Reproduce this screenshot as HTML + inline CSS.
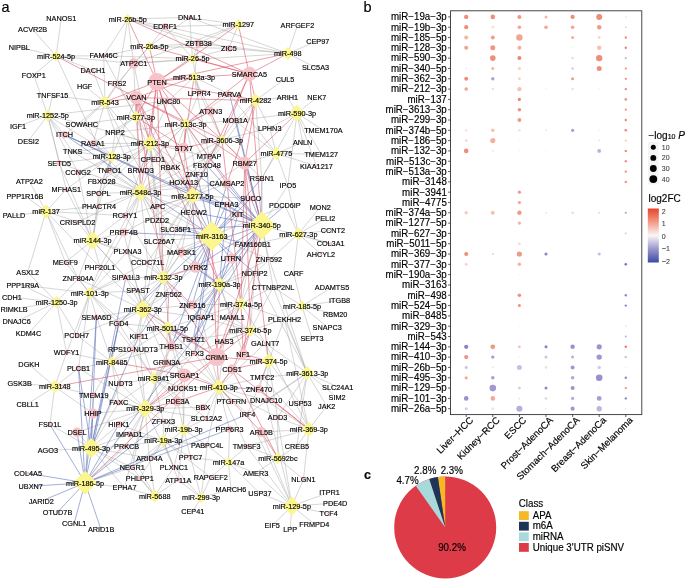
<!DOCTYPE html><html><head><meta charset="utf-8"><title>Figure</title><style>
html,body{margin:0;padding:0;background:#fff}svg{display:block}
text{font-family:"Liberation Sans",Arial,Helvetica,sans-serif;fill:#000;stroke:#000;stroke-width:0.16px}
.n{font-size:7.8px;text-anchor:middle}.y{font-size:10.2px;text-anchor:end}.x{font-size:9.6px;text-anchor:end}
.l{font-size:9.7px}.p{font-size:9.7px;text-anchor:middle}.t{font-size:7px;fill:#444;stroke:#444;stroke-width:0.1px}
</style></head><body>
<svg width="685" height="586" viewBox="0 0 685 586">
<rect width="685" height="586" fill="#fff"/>
<path d="M56.1 56.1L61.3 18.0M56.1 56.1L32.6 29.3M56.1 56.1L19.3 47.3M56.1 56.1L33.8 75.0M56.1 56.1L103.7 55.7M56.1 56.1L92.9 70.4M56.1 56.1L133.7 63.4M56.1 56.1L109.5 170.6M127.8 18.9L165.2 26.6M127.8 18.9L189.7 17.5M127.8 18.9L103.7 55.7M127.8 18.9L133.7 63.4M127.8 18.9L198.5 43.3M127.8 18.9L228.9 48.4M127.8 18.9L117.0 83.7M149.4 46.4L165.2 26.6M149.4 46.4L189.7 17.5M149.4 46.4L103.7 55.7M149.4 46.4L133.7 63.4M149.4 46.4L198.5 43.3M149.4 46.4L228.9 48.4M149.4 46.4L117.0 83.7M192.5 58.7L165.2 26.6M192.5 58.7L189.7 17.5M192.5 58.7L133.7 63.4M192.5 58.7L198.5 43.3M192.5 58.7L228.9 48.4M192.5 58.7L199.3 92.8M192.5 58.7L103.7 55.7M238.3 24.7L165.2 26.6M238.3 24.7L189.7 17.5M238.3 24.7L198.5 43.3M238.3 24.7L228.9 48.4M238.3 24.7L133.7 63.4M287.8 53.5L297.4 25.6M287.8 53.5L317.7 40.8M287.8 53.5L315.5 67.4M287.8 53.5L228.9 48.4M287.8 53.5L198.5 43.3M287.8 53.5L189.7 17.5M287.8 53.5L165.2 26.6M287.8 53.5L133.7 63.4M194.1 77.1L199.3 92.8M194.1 77.1L229.5 94.2M194.1 77.1L168.4 100.8M194.1 77.1L209.0 156.6M105.0 101.9L117.0 83.7M105.0 101.9L84.6 86.2M105.0 101.9L92.9 70.4M105.0 101.9L115.0 132.6M105.0 101.9L81.8 123.8M105.0 101.9L52.6 95.6M105.0 101.9L92.9 143.4M105.0 101.9L152.9 159.6M105.0 101.9L140.7 170.6M47.7 115.4L52.6 95.6M47.7 115.4L33.8 75.0M47.7 115.4L18.0 126.3M47.7 115.4L28.4 140.8M47.7 115.4L81.8 123.8M47.7 115.4L64.5 134.7M47.7 115.4L72.7 151.7M47.7 115.4L59.2 163.1M47.7 115.4L78.0 172.3M47.7 115.4L168.4 100.8M47.7 115.4L92.9 143.4M47.7 115.4L66.2 189.3M135.9 116.8L115.0 132.6M135.9 116.8L117.0 83.7M135.9 116.8L152.9 159.6M135.9 116.8L140.7 170.6M135.9 116.8L170.4 167.6M135.9 116.8L81.8 123.8M135.9 116.8L168.4 100.8M185.7 123.8L168.4 100.8M185.7 123.8L199.3 92.8M185.7 123.8L209.0 156.6M185.7 123.8L206.9 165.7M185.7 123.8L196.7 174.1M185.7 123.8L170.4 167.6M185.7 123.8L183.6 182.0M255.5 100.5L229.5 94.2M255.5 100.5L285.1 78.8M255.5 100.5L287.4 96.9M255.5 100.5L235.2 120.7M255.5 100.5L269.7 128.0M255.5 100.5L261.8 178.3M255.5 100.5L206.9 165.7M297.0 113.2L287.4 96.9M297.0 113.2L316.8 97.5M297.0 113.2L323.4 130.4M297.0 113.2L302.6 142.2M297.0 113.2L321.2 154.1M297.0 113.2L269.7 128.0M297.0 113.2L235.2 120.7M297.0 113.2L316.4 165.9M297.0 113.2L287.9 185.4M297.0 113.2L261.8 178.3M149.9 143.4L152.9 159.6M149.9 143.4L170.4 167.6M149.9 143.4L140.7 170.6M149.9 143.4L115.0 132.6M149.9 143.4L168.4 100.8M149.9 143.4L109.5 170.6M222.0 139.8L235.2 120.7M222.0 139.8L209.0 156.6M222.0 139.8L206.9 165.7M111.8 156.4L92.9 143.4M111.8 156.4L109.5 170.6M111.8 156.4L101.6 181.5M111.8 156.4L72.7 151.7M111.8 156.4L78.0 172.3M111.8 156.4L59.2 163.1M111.8 156.4L140.7 170.6M111.8 156.4L152.9 159.6M111.8 156.4L115.0 132.6M111.8 156.4L81.8 123.8M276.4 153.6L269.7 128.0M276.4 153.6L302.6 142.2M276.4 153.6L321.2 154.1M276.4 153.6L316.4 165.9M276.4 153.6L261.8 178.3M276.4 153.6L287.9 185.4M276.4 153.6L235.2 120.7M276.4 153.6L244.7 163.1M276.4 153.6L229.5 94.2M46.1 211.5L29.4 181.5M46.1 211.5L24.9 195.8M46.1 211.5L14.0 215.6M46.1 211.5L66.2 189.3M46.1 211.5L77.6 222.0M46.1 211.5L99.0 205.9M46.1 211.5L27.7 272.3M46.1 211.5L65.3 262.3M46.1 211.5L78.1 278.6M46.1 211.5L124.9 215.6M46.1 211.5L99.9 267.2M92.5 240.5L77.6 222.0M92.5 240.5L65.3 262.3M92.5 240.5L99.9 267.2M92.5 240.5L123.7 232.6M92.5 240.5L124.9 215.6M92.5 240.5L99.0 205.9M92.5 240.5L98.5 193.5M92.5 240.5L66.2 189.3M92.5 240.5L127.5 251.5M92.5 240.5L78.1 278.6M92.5 240.5L125.8 277.6M92.5 240.5L78.0 172.3M92.5 240.5L59.2 163.1M140.5 191.9L157.7 206.6M140.5 191.9L124.9 215.6M140.5 191.9L157.0 219.8M140.5 191.9L140.7 170.6M140.5 191.9L152.9 159.6M140.5 191.9L170.4 167.6M140.5 191.9L101.6 181.5M140.5 191.9L98.5 193.5M140.5 191.9L99.0 205.9M140.5 191.9L123.7 232.6M140.5 191.9L159.1 241.3M140.5 191.9L127.5 251.5M140.5 191.9L147.7 262.0M140.5 191.9L109.5 170.6M140.5 191.9L183.6 182.0M192.4 195.8L183.6 182.0M192.4 195.8L193.7 212.4M192.4 195.8L196.7 174.1M192.4 195.8L157.7 206.6M192.4 195.8L175.7 229.4M192.4 195.8L181.5 252.2M192.4 195.8L206.9 165.7M192.4 195.8L157.0 219.8M211.8 236.1L159.1 241.3M211.8 236.1L181.5 252.2M211.8 236.1L157.0 219.8M211.8 236.1L157.7 206.6M261.8 225.5L269.0 259.1M261.8 225.5L254.7 272.9M261.8 225.5L287.9 185.4M298.4 234.0L320.2 207.0M298.4 234.0L325.3 218.2M298.4 234.0L332.9 230.0M298.4 234.0L330.6 243.7M298.4 234.0L321.0 254.2M298.4 234.0L284.9 205.6M298.4 234.0L287.9 185.4M298.4 234.0L293.6 273.3M298.4 234.0L252.8 244.5M298.4 234.0L254.7 272.9M163.4 277.5L125.8 277.6M163.4 277.5L138.0 290.7M163.4 277.5L168.7 294.0M163.4 277.5L147.7 262.0M163.4 277.5L127.5 251.5M163.4 277.5L181.5 252.2M163.4 277.5L159.1 241.3M219.5 284.6L192.3 305.0M219.5 284.6L201.1 317.3M219.5 284.6L232.3 317.1M89.7 293.1L78.1 278.6M89.7 293.1L99.9 267.2M89.7 293.1L96.4 316.8M89.7 293.1L76.7 335.2M89.7 293.1L66.6 352.7M89.7 293.1L118.8 323.4M89.7 293.1L65.3 262.3M89.7 293.1L78.5 368.3M56.6 302.1L27.7 272.3M56.6 302.1L22.8 285.2M56.6 302.1L11.9 297.2M56.6 302.1L14.0 308.9M56.6 302.1L16.6 321.3M56.6 302.1L28.4 333.6M56.6 302.1L78.1 278.6M56.6 302.1L76.7 335.2M56.6 302.1L66.6 352.7M142.8 309.4L138.0 290.7M142.8 309.4L118.8 323.4M142.8 309.4L138.9 336.2M142.8 309.4L125.8 277.6M142.8 309.4L132.8 349.4M142.8 309.4L168.7 294.0M142.8 309.4L96.4 316.8M167.3 327.8L138.9 336.2M167.3 327.8L166.6 362.4M241.0 303.8L232.3 317.1M241.0 303.8L254.7 272.9M241.0 303.8L273.1 287.1M241.0 303.8L224.0 341.5M302.0 306.1L293.6 273.3M302.0 306.1L332.0 287.1M302.0 306.1L339.6 300.4M302.0 306.1L335.2 314.0M302.0 306.1L327.2 326.9M302.0 306.1L312.0 338.3M302.0 306.1L284.5 318.8M302.0 306.1L273.1 287.1M250.4 330.7L232.3 317.1M250.4 330.7L265.2 343.1M250.4 330.7L224.0 341.5M250.4 330.7L273.1 287.1M268.6 361.1L265.2 343.1M268.6 361.1L262.1 377.5M268.6 361.1L284.5 318.8M268.6 361.1L258.9 389.0M111.7 361.8L132.8 349.4M111.7 361.8L120.5 383.7M111.7 361.8L78.5 368.3M111.7 361.8L118.8 323.4M111.7 361.8L138.9 336.2M111.7 361.8L93.7 395.0M111.7 361.8L118.8 402.6M111.7 361.8L66.6 352.7M54.8 386.6L28.9 364.4M54.8 386.6L19.6 383.3M54.8 386.6L27.7 403.8M54.8 386.6L49.9 424.5M54.8 386.6L78.5 368.3M54.8 386.6L93.7 395.0M54.8 386.6L66.6 352.7M54.8 386.6L92.9 413.4M153.5 378.0L166.6 362.4M153.5 378.0L120.5 383.7M153.5 378.0L182.7 388.0M153.5 378.0L118.8 402.6M153.5 378.0L163.4 421.0M153.5 378.0L177.5 401.5M153.5 378.0L184.5 375.2M153.5 378.0L171.3 346.2M153.5 378.0L132.8 349.4M218.8 387.2L182.7 388.0M218.8 387.2L202.9 407.3M218.8 387.2L231.4 401.4M218.8 387.2L206.4 418.3M218.8 387.2L194.6 353.2M307.2 372.9L337.7 387.0M307.2 372.9L337.1 397.4M307.2 372.9L326.7 406.1M307.2 372.9L300.1 403.1M307.2 372.9L266.1 400.2M307.2 372.9L262.1 377.5M307.2 372.9L247.5 414.1M307.2 372.9L296.9 446.4M307.2 372.9L273.1 287.1M307.2 372.9L284.5 318.8M307.2 372.9L254.7 272.9M307.2 372.9L265.2 343.1M307.2 372.9L269.0 259.1M307.2 372.9L277.5 417.5M145.2 408.7L118.8 402.6M145.2 408.7L118.8 424.5M145.2 408.7L129.3 434.1M145.2 408.7L163.4 421.0M145.2 408.7L120.5 383.7M145.2 408.7L126.6 445.8M145.2 408.7L149.4 458.0M145.2 408.7L182.7 388.0M145.2 408.7L166.6 362.4M183.6 429.7L163.4 421.0M183.6 429.7L206.4 418.3M183.6 429.7L207.2 445.3M183.6 429.7L190.6 457.2M183.6 429.7L202.9 407.3M183.6 429.7L173.9 467.0M183.6 429.7L178.3 480.1M183.6 429.7L177.5 401.5M163.3 440.6L163.4 421.0M163.3 440.6L129.3 434.1M163.3 440.6L149.4 458.0M163.3 440.6L173.9 467.0M163.3 440.6L190.6 457.2M163.3 440.6L178.3 480.1M163.3 440.6L126.6 445.8M163.3 440.6L177.5 401.5M308.8 429.3L300.1 403.1M308.8 429.3L326.7 406.1M308.8 429.3L277.5 417.5M308.8 429.3L296.9 446.4M308.8 429.3L266.1 400.2M308.8 429.3L246.6 446.4M308.8 429.3L303.5 479.4M308.8 429.3L261.4 432.1M308.8 429.3L265.2 343.1M308.8 429.3L284.5 318.8M308.8 429.3L262.1 377.5M91.1 448.0L47.8 450.6M91.1 448.0L77.1 432.4M91.1 448.0L92.9 413.4M91.1 448.0L118.8 424.5M91.1 448.0L129.3 434.1M91.1 448.0L126.6 445.8M91.1 448.0L93.7 395.0M91.1 448.0L118.8 402.6M91.1 448.0L132.2 467.5M91.1 448.0L124.5 487.7M91.1 448.0L139.8 478.0M85.1 482.8L124.5 487.7M85.1 482.8L132.2 467.5M85.1 482.8L126.6 445.8M154.7 495.9L149.4 458.0M154.7 495.9L132.2 467.5M154.7 495.9L139.8 478.0M154.7 495.9L124.5 487.7M154.7 495.9L178.3 480.1M154.7 495.9L173.9 467.0M154.7 495.9L126.6 445.8M201.1 497.7L190.6 457.2M201.1 497.7L173.9 467.0M201.1 497.7L178.3 480.1M201.1 497.7L210.7 477.2M201.1 497.7L192.7 511.7M201.1 497.7L231.0 489.2M201.1 497.7L207.2 445.3M228.5 462.3L210.7 477.2M228.5 462.3L231.0 489.2M228.5 462.3L255.7 473.2M228.5 462.3L259.9 493.3M228.5 462.3L207.2 445.3M228.5 462.3L246.6 446.4M228.5 462.3L190.6 457.2M277.9 458.0L303.5 479.4M277.9 458.0L296.9 446.4M277.9 458.0L246.6 446.4M277.9 458.0L255.7 473.2M277.9 458.0L277.5 417.5M291.9 506.0L303.5 479.4M291.9 506.0L329.5 492.3M291.9 506.0L335.2 503.1M291.9 506.0L328.6 513.6M291.9 506.0L314.3 524.0M291.9 506.0L290.2 529.7M291.9 506.0L272.2 525.5M291.9 506.0L259.9 493.3M291.9 506.0L255.7 473.2M291.9 506.0L246.6 446.4M291.9 506.0L261.4 432.1M291.9 506.0L247.5 414.1M291.9 506.0L266.1 400.2M291.9 506.0L277.5 417.5M105.0 101.9L103.7 55.7M105.0 101.9L133.7 63.4M105.0 101.9L64.5 134.7M135.9 116.8L103.7 55.7M135.9 116.8L133.7 63.4M135.9 116.8L92.9 143.4M185.7 123.8L229.5 94.2M185.7 123.8L115.0 132.6M185.7 123.8L152.9 159.6M185.7 123.8L140.7 170.6M185.7 123.8L235.2 120.7M149.9 143.4L133.7 63.4M149.9 143.4L81.8 123.8M149.9 143.4L92.9 143.4M149.9 143.4L72.7 151.7M149.9 143.4L78.0 172.3M149.9 143.4L101.6 181.5M149.9 143.4L210.7 111.4M149.9 143.4L209.0 156.6M149.9 143.4L196.7 174.1M149.9 143.4L183.6 182.0M149.9 143.4L98.5 193.5M149.9 143.4L157.7 206.6M149.9 143.4L193.7 212.4M149.9 143.4L124.9 215.6M149.9 143.4L157.0 219.8M111.8 156.4L136.3 97.6M111.8 156.4L64.5 134.7M111.8 156.4L66.2 189.3M111.8 156.4L98.5 193.5M111.8 156.4L99.0 205.9M222.0 139.8L199.3 92.8M222.0 139.8L170.4 167.6M222.0 139.8L196.7 174.1M222.0 139.8L183.6 182.0M222.0 139.8L269.7 128.0M222.0 139.8L261.8 178.3M140.5 191.9L115.0 132.6M140.5 191.9L92.9 143.4M140.5 191.9L72.7 151.7M140.5 191.9L59.2 163.1M140.5 191.9L183.6 147.8M140.5 191.9L209.0 156.6M140.5 191.9L196.7 174.1M140.5 191.9L227.0 183.6M140.5 191.9L77.6 222.0M140.5 191.9L99.9 267.2M140.5 191.9L226.5 204.4M140.5 191.9L193.7 212.4M140.5 191.9L175.7 229.4M140.5 191.9L181.5 252.2M192.4 195.8L209.0 156.6M192.4 195.8L152.9 159.6M192.4 195.8L170.4 167.6M192.4 195.8L140.7 170.6M192.4 195.8L244.7 163.1M192.4 195.8L227.0 183.6M192.4 195.8L124.9 215.6M192.4 195.8L123.7 232.6M192.4 195.8L159.1 241.3M192.4 195.8L147.7 262.0M192.4 195.8L250.9 198.4M92.5 240.5L101.6 181.5M92.5 240.5L147.7 262.0M92.5 240.5L138.0 290.7M163.4 277.5L157.7 206.6M163.4 277.5L193.7 212.4M163.4 277.5L124.9 215.6M163.4 277.5L175.7 229.4M163.4 277.5L231.0 258.4M163.4 277.5L201.1 317.3M163.4 277.5L118.8 323.4M163.4 277.5L138.9 336.2M163.4 277.5L171.3 346.2M142.8 309.4L99.9 267.2M142.8 309.4L78.1 278.6M142.8 309.4L123.7 232.6M142.8 309.4L159.1 241.3M142.8 309.4L127.5 251.5M142.8 309.4L181.5 252.2M142.8 309.4L147.7 262.0M142.8 309.4L195.5 267.2M142.8 309.4L76.7 335.2M142.8 309.4L192.3 305.0M142.8 309.4L201.1 317.3M142.8 309.4L193.2 339.6M142.8 309.4L194.6 353.2M142.8 309.4L166.6 362.4M89.7 293.1L123.7 232.6M89.7 293.1L127.5 251.5M89.7 293.1L147.7 262.0M89.7 293.1L125.8 277.6M89.7 293.1L22.8 285.2M89.7 293.1L138.0 290.7M89.7 293.1L138.9 336.2M89.7 293.1L132.8 349.4M167.3 327.8L138.0 290.7M167.3 327.8L192.3 305.0M167.3 327.8L201.1 317.3M167.3 327.8L118.8 323.4M167.3 327.8L132.8 349.4M167.3 327.8L194.6 353.2M167.3 327.8L184.5 375.2M167.3 327.8L182.7 388.0M111.7 361.8L96.4 316.8M111.7 361.8L76.7 335.2M111.7 361.8L171.3 346.2M153.5 378.0L118.8 323.4M153.5 378.0L138.9 336.2M153.5 378.0L193.2 339.6M153.5 378.0L194.6 353.2M153.5 378.0L206.4 418.3M145.2 408.7L78.5 368.3M145.2 408.7L138.9 336.2M145.2 408.7L171.3 346.2M145.2 408.7L132.8 349.4M145.2 408.7L194.6 353.2M145.2 408.7L93.7 395.0M145.2 408.7L92.9 413.4M145.2 408.7L77.1 432.4M145.2 408.7L202.9 407.3M145.2 408.7L206.4 418.3M145.2 408.7L132.2 467.5M145.2 408.7L173.9 467.0M145.2 408.7L124.5 487.7M218.8 387.2L201.1 317.3M218.8 387.2L193.2 339.6M218.8 387.2L224.0 341.5M218.8 387.2L171.3 346.2M218.8 387.2L166.6 362.4M218.8 387.2L265.2 343.1M218.8 387.2L243.2 354.1M218.8 387.2L207.2 445.3M218.8 387.2L262.1 377.5M218.8 387.2L266.1 400.2M218.8 387.2L247.5 414.1M218.8 387.2L277.5 417.5M218.8 387.2L229.5 429.3M218.8 387.2L246.6 446.4M163.3 440.6L118.8 424.5M163.3 440.6L207.2 445.3M163.3 440.6L132.2 467.5M163.3 440.6L139.8 478.0M163.3 440.6L210.7 477.2M183.6 429.7L184.5 375.2M183.6 429.7L182.7 388.0M183.6 429.7L149.4 458.0M91.1 448.0L49.9 424.5M91.1 448.0L120.5 383.7M91.1 448.0L149.4 458.0M241.0 303.8L195.5 267.2M241.0 303.8L252.8 244.5M241.0 303.8L231.0 258.4M241.0 303.8L192.3 305.0M241.0 303.8L201.1 317.3M241.0 303.8L193.2 339.6M241.0 303.8L194.6 353.2M241.0 303.8L284.5 318.8M241.0 303.8L265.2 343.1M250.4 330.7L254.7 272.9M250.4 330.7L192.3 305.0M250.4 330.7L201.1 317.3M250.4 330.7L193.2 339.6M250.4 330.7L194.6 353.2M250.4 330.7L284.5 318.8M268.6 361.1L266.1 400.2M268.6 361.1L300.1 403.1M268.6 361.1L247.5 414.1M268.6 361.1L277.5 417.5M219.5 284.6L159.1 241.3M219.5 284.6L181.5 252.2M219.5 284.6L252.8 244.5M219.5 284.6L269.0 259.1M219.5 284.6L254.7 272.9M219.5 284.6L243.2 354.1M211.8 236.1L147.7 262.0M211.8 236.1L284.9 205.6M211.8 236.1L269.0 259.1M194.1 77.1L198.5 43.3M194.1 77.1L210.7 111.4M228.5 462.3L229.5 429.3M261.8 225.5L330.6 243.7M261.8 225.5L273.1 287.1" fill="none" stroke="#a4a4a4" stroke-width="0.45"/>
<path d="M192.4 195.8L64.5 134.7M192.4 195.8L226.5 204.4M192.4 195.8L195.5 267.2M192.4 195.8L237.7 214.7M211.8 236.1L175.7 229.4M211.8 236.1L193.7 212.4M211.8 236.1L196.7 174.1M211.8 236.1L183.6 182.0M211.8 236.1L206.9 165.7M211.8 236.1L261.8 178.3M211.8 236.1L252.8 244.5M211.8 236.1L254.7 272.9M211.8 236.1L64.5 134.7M211.8 236.1L123.7 232.6M211.8 236.1L231.0 258.4M211.8 236.1L195.5 267.2M211.8 236.1L226.5 204.4M211.8 236.1L237.7 214.7M211.8 236.1L227.0 183.6M211.8 236.1L250.9 198.4M211.8 236.1L192.3 305.0M211.8 236.1L118.8 323.4M211.8 236.1L138.9 336.2M211.8 236.1L171.3 346.2M211.8 236.1L193.2 339.6M211.8 236.1L194.6 353.2M261.8 225.5L64.5 134.7M261.8 225.5L250.9 198.4M261.8 225.5L237.7 214.7M261.8 225.5L226.5 204.4M261.8 225.5L227.0 183.6M261.8 225.5L261.8 178.3M261.8 225.5L252.8 244.5M261.8 225.5L231.0 258.4M261.8 225.5L195.5 267.2M261.8 225.5L181.5 252.2M261.8 225.5L192.3 305.0M261.8 225.5L284.9 205.6M261.8 225.5L229.5 94.2M261.8 225.5L235.2 120.7M261.8 225.5L206.9 165.7M261.8 225.5L209.0 156.6M261.8 225.5L196.7 174.1M261.8 225.5L183.6 182.0M261.8 225.5L193.7 212.4M261.8 225.5L175.7 229.4M261.8 225.5L171.3 346.2M261.8 225.5L193.2 339.6M219.5 284.6L231.0 258.4M219.5 284.6L195.5 267.2M219.5 284.6L193.2 339.6M219.5 284.6L171.3 346.2M219.5 284.6L194.6 353.2M219.5 284.6L237.7 214.7M219.5 284.6L226.5 204.4M167.3 327.8L193.2 339.6M218.8 387.2L258.9 389.0M91.1 448.0L78.5 368.3M91.1 448.0L96.4 316.8M91.1 448.0L118.8 323.4M91.1 448.0L125.8 277.6M91.1 448.0L138.9 336.2M85.1 482.8L28.0 473.3M85.1 482.8L30.7 486.3M85.1 482.8L41.2 501.2M85.1 482.8L57.5 512.2M85.1 482.8L74.1 523.6M85.1 482.8L101.1 529.7M85.1 482.8L49.9 424.5M85.1 482.8L78.5 368.3M85.1 482.8L77.1 432.4M85.1 482.8L92.9 413.4M85.1 482.8L96.4 316.8M85.1 482.8L118.8 424.5M85.1 482.8L229.5 429.3M85.1 482.8L247.5 414.1M85.1 482.8L118.8 323.4M85.1 482.8L193.2 339.6M85.1 482.8L163.4 421.0" fill="none" stroke="#5169b3" stroke-width="0.54"/>
<path d="M56.1 56.1L136.3 97.6M127.8 18.9L157.0 81.8M127.8 18.9L249.4 74.0M149.4 46.4L157.0 81.8M149.4 46.4L249.4 74.0M192.5 58.7L157.0 81.8M192.5 58.7L249.4 74.0M238.3 24.7L157.0 81.8M238.3 24.7L249.4 74.0M287.8 53.5L249.4 74.0M287.8 53.5L157.0 81.8M194.1 77.1L157.0 81.8M194.1 77.1L249.4 74.0M194.1 77.1L136.3 97.6M194.1 77.1L183.6 147.8M105.0 101.9L136.3 97.6M105.0 101.9L157.0 81.8M135.9 116.8L136.3 97.6M135.9 116.8L157.0 81.8M135.9 116.8L183.6 147.8M185.7 123.8L136.3 97.6M185.7 123.8L157.0 81.8M185.7 123.8L210.7 111.4M185.7 123.8L183.6 147.8M185.7 123.8L249.4 74.0M185.7 123.8L227.0 183.6M185.7 123.8L244.7 163.1M255.5 100.5L249.4 74.0M255.5 100.5L244.7 163.1M255.5 100.5L227.0 183.6M255.5 100.5L136.3 97.6M255.5 100.5L157.0 81.8M297.0 113.2L244.7 163.1M149.9 143.4L136.3 97.6M149.9 143.4L157.0 81.8M149.9 143.4L183.6 147.8M222.0 139.8L210.7 111.4M222.0 139.8L244.7 163.1M222.0 139.8L227.0 183.6M222.0 139.8L183.6 147.8M222.0 139.8L249.4 74.0M222.0 139.8L136.3 97.6M222.0 139.8L157.0 81.8M140.5 191.9L157.0 81.8M140.5 191.9L136.3 97.6M192.4 195.8L183.6 147.8M192.4 195.8L136.3 97.6M192.4 195.8L157.0 81.8M192.4 195.8L249.4 74.0M211.8 236.1L216.9 357.1M261.8 225.5L244.7 163.1M261.8 225.5L216.9 357.1M261.8 225.5L243.2 354.1M261.8 225.5L249.4 74.0M163.4 277.5L195.5 267.2M163.4 277.5L192.3 305.0M163.4 277.5L136.3 97.6M163.4 277.5L157.0 81.8M163.4 277.5L216.9 357.1M219.5 284.6L216.9 357.1M219.5 284.6L136.3 97.6M219.5 284.6L157.0 81.8M142.8 309.4L171.3 346.2M142.8 309.4L216.9 357.1M167.3 327.8L168.7 294.0M167.3 327.8L171.3 346.2M167.3 327.8L216.9 357.1M241.0 303.8L227.0 183.6M241.0 303.8L244.7 163.1M241.0 303.8L216.9 357.1M241.0 303.8L243.2 354.1M250.4 330.7L244.7 163.1M250.4 330.7L216.9 357.1M250.4 330.7L243.2 354.1M250.4 330.7L232.0 369.3M268.6 361.1L244.7 163.1M268.6 361.1L216.9 357.1M268.6 361.1L243.2 354.1M268.6 361.1L232.0 369.3M111.7 361.8L184.5 375.2M54.8 386.6L216.9 357.1M218.8 387.2L216.9 357.1M218.8 387.2L184.5 375.2M218.8 387.2L232.0 369.3M218.8 387.2L177.5 401.5M218.8 387.2L261.4 432.1M145.2 408.7L177.5 401.5M145.2 408.7L184.5 375.2M145.2 408.7L216.9 357.1M308.8 429.3L258.9 389.0M308.8 429.3L232.0 369.3M85.1 482.8L216.9 357.1M277.9 458.0L261.4 432.1M277.9 458.0L232.0 369.3" fill="none" stroke="#d94f63" stroke-width="0.56"/>
<circle cx="103.7" cy="55.7" r="2.2" fill="#f8c3c8"/>
<circle cx="92.9" cy="70.4" r="1.4" fill="#f8c3c8"/>
<circle cx="33.8" cy="75.0" r="1.4" fill="#f8c3c8"/>
<circle cx="165.2" cy="26.6" r="3.4" fill="#f8c3c8"/>
<circle cx="189.7" cy="17.5" r="2.2" fill="#f8c3c8"/>
<circle cx="198.5" cy="43.3" r="4.0" fill="#f8c3c8"/>
<circle cx="133.7" cy="63.4" r="5.3" fill="#f8c3c8"/>
<circle cx="157.0" cy="81.8" r="8.8" fill="#f8c3c8"/>
<circle cx="117.0" cy="83.7" r="2.2" fill="#f8c3c8"/>
<circle cx="199.3" cy="92.8" r="2.9" fill="#f8c3c8"/>
<circle cx="136.3" cy="97.6" r="6.7" fill="#f8c3c8"/>
<circle cx="168.4" cy="100.8" r="2.9" fill="#f8c3c8"/>
<circle cx="229.5" cy="94.2" r="2.9" fill="#f8c3c8"/>
<circle cx="228.9" cy="48.4" r="3.4" fill="#f8c3c8"/>
<circle cx="249.4" cy="74.0" r="7.2" fill="#f8c3c8"/>
<circle cx="81.8" cy="123.8" r="1.4" fill="#f8c3c8"/>
<circle cx="64.5" cy="134.7" r="3.6" fill="#f8c3c8"/>
<circle cx="115.0" cy="132.6" r="1.4" fill="#f8c3c8"/>
<circle cx="92.9" cy="143.4" r="3.4" fill="#f8c3c8"/>
<circle cx="72.7" cy="151.7" r="1.4" fill="#f8c3c8"/>
<circle cx="59.2" cy="163.1" r="2.9" fill="#f8c3c8"/>
<circle cx="78.0" cy="172.3" r="2.9" fill="#f8c3c8"/>
<circle cx="109.5" cy="170.6" r="2.9" fill="#f8c3c8"/>
<circle cx="101.6" cy="181.5" r="2.2" fill="#f8c3c8"/>
<circle cx="66.2" cy="189.3" r="2.2" fill="#f8c3c8"/>
<circle cx="210.7" cy="111.4" r="4.6" fill="#f8c3c8"/>
<circle cx="183.6" cy="147.8" r="5.3" fill="#f8c3c8"/>
<circle cx="209.0" cy="156.6" r="2.2" fill="#f8c3c8"/>
<circle cx="152.9" cy="159.6" r="2.9" fill="#f8c3c8"/>
<circle cx="206.9" cy="165.7" r="1.4" fill="#f8c3c8"/>
<circle cx="170.4" cy="167.6" r="1.4" fill="#f8c3c8"/>
<circle cx="140.7" cy="170.6" r="2.9" fill="#f8c3c8"/>
<circle cx="196.7" cy="174.1" r="1.4" fill="#f8c3c8"/>
<circle cx="183.6" cy="182.0" r="2.2" fill="#f8c3c8"/>
<circle cx="235.2" cy="120.7" r="2.9" fill="#f8c3c8"/>
<circle cx="269.7" cy="128.0" r="1.4" fill="#f8c3c8"/>
<circle cx="244.7" cy="163.1" r="6.6" fill="#f8c3c8"/>
<circle cx="316.4" cy="165.9" r="1.4" fill="#f8c3c8"/>
<circle cx="261.8" cy="178.3" r="2.2" fill="#f8c3c8"/>
<circle cx="287.9" cy="185.4" r="1.4" fill="#f8c3c8"/>
<circle cx="227.0" cy="183.6" r="5.0" fill="#f8c3c8"/>
<circle cx="98.5" cy="193.5" r="2.2" fill="#f8c3c8"/>
<circle cx="99.0" cy="205.9" r="2.2" fill="#f8c3c8"/>
<circle cx="77.6" cy="222.0" r="1.4" fill="#f8c3c8"/>
<circle cx="65.3" cy="262.3" r="2.2" fill="#f8c3c8"/>
<circle cx="99.9" cy="267.2" r="2.2" fill="#f8c3c8"/>
<circle cx="78.1" cy="278.6" r="2.2" fill="#f8c3c8"/>
<circle cx="226.5" cy="204.4" r="2.9" fill="#f8c3c8"/>
<circle cx="157.7" cy="206.6" r="2.2" fill="#f8c3c8"/>
<circle cx="193.7" cy="212.4" r="2.2" fill="#f8c3c8"/>
<circle cx="124.9" cy="215.6" r="2.9" fill="#f8c3c8"/>
<circle cx="157.0" cy="219.8" r="1.4" fill="#f8c3c8"/>
<circle cx="175.7" cy="229.4" r="2.2" fill="#f8c3c8"/>
<circle cx="123.7" cy="232.6" r="4.0" fill="#f8c3c8"/>
<circle cx="159.1" cy="241.3" r="2.2" fill="#f8c3c8"/>
<circle cx="127.5" cy="251.5" r="2.2" fill="#f8c3c8"/>
<circle cx="181.5" cy="252.2" r="4.6" fill="#f8c3c8"/>
<circle cx="147.7" cy="262.0" r="2.2" fill="#f8c3c8"/>
<circle cx="195.5" cy="267.2" r="5.6" fill="#f8c3c8"/>
<circle cx="125.8" cy="277.6" r="2.9" fill="#f8c3c8"/>
<circle cx="250.9" cy="198.4" r="2.9" fill="#f8c3c8"/>
<circle cx="284.9" cy="205.6" r="1.4" fill="#f8c3c8"/>
<circle cx="237.7" cy="214.7" r="2.9" fill="#f8c3c8"/>
<circle cx="252.8" cy="244.5" r="2.2" fill="#f8c3c8"/>
<circle cx="330.6" cy="243.7" r="1.4" fill="#f8c3c8"/>
<circle cx="321.0" cy="254.2" r="1.4" fill="#f8c3c8"/>
<circle cx="231.0" cy="258.4" r="5.0" fill="#f8c3c8"/>
<circle cx="269.0" cy="259.1" r="1.4" fill="#f8c3c8"/>
<circle cx="254.7" cy="272.9" r="2.2" fill="#f8c3c8"/>
<circle cx="22.8" cy="285.2" r="1.4" fill="#f8c3c8"/>
<circle cx="96.4" cy="316.8" r="2.6" fill="#f8c3c8"/>
<circle cx="76.7" cy="335.2" r="2.2" fill="#f8c3c8"/>
<circle cx="66.6" cy="352.7" r="2.2" fill="#f8c3c8"/>
<circle cx="78.5" cy="368.3" r="2.9" fill="#f8c3c8"/>
<circle cx="138.0" cy="290.7" r="1.4" fill="#f8c3c8"/>
<circle cx="168.7" cy="294.0" r="1.4" fill="#f8c3c8"/>
<circle cx="192.3" cy="305.0" r="4.6" fill="#f8c3c8"/>
<circle cx="201.1" cy="317.3" r="2.9" fill="#f8c3c8"/>
<circle cx="118.8" cy="323.4" r="2.9" fill="#f8c3c8"/>
<circle cx="138.9" cy="336.2" r="2.9" fill="#f8c3c8"/>
<circle cx="193.2" cy="339.6" r="2.9" fill="#f8c3c8"/>
<circle cx="224.0" cy="341.5" r="2.9" fill="#f8c3c8"/>
<circle cx="171.3" cy="346.2" r="5.0" fill="#f8c3c8"/>
<circle cx="132.8" cy="349.4" r="2.9" fill="#f8c3c8"/>
<circle cx="194.6" cy="353.2" r="2.9" fill="#f8c3c8"/>
<circle cx="216.9" cy="357.1" r="9.0" fill="#f8c3c8"/>
<circle cx="166.6" cy="362.4" r="3.6" fill="#f8c3c8"/>
<circle cx="273.1" cy="287.1" r="1.4" fill="#f8c3c8"/>
<circle cx="232.3" cy="317.1" r="2.9" fill="#f8c3c8"/>
<circle cx="284.5" cy="318.8" r="1.4" fill="#f8c3c8"/>
<circle cx="265.2" cy="343.1" r="1.4" fill="#f8c3c8"/>
<circle cx="243.2" cy="354.1" r="5.0" fill="#f8c3c8"/>
<circle cx="232.0" cy="369.3" r="5.0" fill="#f8c3c8"/>
<circle cx="93.7" cy="395.0" r="2.9" fill="#f8c3c8"/>
<circle cx="92.9" cy="413.4" r="5.2" fill="#f8c3c8"/>
<circle cx="49.9" cy="424.5" r="1.4" fill="#f8c3c8"/>
<circle cx="77.1" cy="432.4" r="4.8" fill="#f8c3c8"/>
<circle cx="184.5" cy="375.2" r="6.8" fill="#f8c3c8"/>
<circle cx="120.5" cy="383.7" r="2.9" fill="#f8c3c8"/>
<circle cx="182.7" cy="388.0" r="2.9" fill="#f8c3c8"/>
<circle cx="118.8" cy="402.6" r="2.9" fill="#f8c3c8"/>
<circle cx="177.5" cy="401.5" r="5.0" fill="#f8c3c8"/>
<circle cx="202.9" cy="407.3" r="3.4" fill="#f8c3c8"/>
<circle cx="206.4" cy="418.3" r="2.2" fill="#f8c3c8"/>
<circle cx="163.4" cy="421.0" r="2.2" fill="#f8c3c8"/>
<circle cx="118.8" cy="424.5" r="3.4" fill="#f8c3c8"/>
<circle cx="129.3" cy="434.1" r="2.9" fill="#f8c3c8"/>
<circle cx="126.6" cy="445.8" r="2.2" fill="#f8c3c8"/>
<circle cx="207.2" cy="445.3" r="1.4" fill="#f8c3c8"/>
<circle cx="149.4" cy="458.0" r="2.2" fill="#f8c3c8"/>
<circle cx="190.6" cy="457.2" r="2.2" fill="#f8c3c8"/>
<circle cx="262.1" cy="377.5" r="2.2" fill="#f8c3c8"/>
<circle cx="258.9" cy="389.0" r="4.0" fill="#f8c3c8"/>
<circle cx="231.4" cy="401.4" r="2.9" fill="#f8c3c8"/>
<circle cx="266.1" cy="400.2" r="2.2" fill="#f8c3c8"/>
<circle cx="300.1" cy="403.1" r="1.4" fill="#f8c3c8"/>
<circle cx="247.5" cy="414.1" r="2.2" fill="#f8c3c8"/>
<circle cx="277.5" cy="417.5" r="2.2" fill="#f8c3c8"/>
<circle cx="229.5" cy="429.3" r="3.4" fill="#f8c3c8"/>
<circle cx="261.4" cy="432.1" r="5.0" fill="#f8c3c8"/>
<circle cx="246.6" cy="446.4" r="2.2" fill="#f8c3c8"/>
<circle cx="296.9" cy="446.4" r="1.4" fill="#f8c3c8"/>
<circle cx="28.0" cy="473.3" r="1.4" fill="#f8c3c8"/>
<circle cx="132.2" cy="467.5" r="2.2" fill="#f8c3c8"/>
<circle cx="173.9" cy="467.0" r="2.2" fill="#f8c3c8"/>
<circle cx="139.8" cy="478.0" r="2.2" fill="#f8c3c8"/>
<circle cx="210.7" cy="477.2" r="2.2" fill="#f8c3c8"/>
<circle cx="178.3" cy="480.1" r="2.2" fill="#f8c3c8"/>
<circle cx="124.5" cy="487.7" r="1.4" fill="#f8c3c8"/>
<circle cx="303.5" cy="479.4" r="2.2" fill="#f8c3c8"/>
<circle cx="231.0" cy="489.2" r="1.4" fill="#f8c3c8"/>
<circle cx="259.9" cy="493.3" r="1.4" fill="#f8c3c8"/>
<circle cx="328.6" cy="513.6" r="1.4" fill="#f8c3c8"/>
<path d="M50.6 56.1L56.1 50.6L61.6 56.1L56.1 61.6Z" fill="#fbf68d"/>
<path d="M122.8 18.9L127.8 13.9L132.8 18.9L127.8 23.9Z" fill="#fbf68d"/>
<path d="M144.4 46.4L149.4 41.4L154.4 46.4L149.4 51.4Z" fill="#fbf68d"/>
<path d="M187.5 58.7L192.5 53.7L197.5 58.7L192.5 63.7Z" fill="#fbf68d"/>
<path d="M232.8 24.7L238.3 19.2L243.8 24.7L238.3 30.2Z" fill="#fbf68d"/>
<path d="M281.3 53.5L287.8 47.0L294.3 53.5L287.8 60.0Z" fill="#fbf68d"/>
<path d="M189.1 77.1L194.1 72.1L199.1 77.1L194.1 82.1Z" fill="#fbf68d"/>
<path d="M98.5 101.9L105.0 95.4L111.5 101.9L105.0 108.4Z" fill="#fbf68d"/>
<path d="M41.7 115.4L47.7 109.4L53.7 115.4L47.7 121.4Z" fill="#fbf68d"/>
<path d="M129.9 116.8L135.9 110.8L141.9 116.8L135.9 122.8Z" fill="#fbf68d"/>
<path d="M180.2 123.8L185.7 118.3L191.2 123.8L185.7 129.3Z" fill="#fbf68d"/>
<path d="M248.5 100.5L255.5 93.5L262.5 100.5L255.5 107.5Z" fill="#fbf68d"/>
<path d="M288.5 113.2L297.0 104.7L305.5 113.2L297.0 121.7Z" fill="#fbf68d"/>
<path d="M141.9 143.4L149.9 135.4L157.9 143.4L149.9 151.4Z" fill="#fbf68d"/>
<path d="M217.0 139.8L222.0 134.8L227.0 139.8L222.0 144.8Z" fill="#fbf68d"/>
<path d="M105.8 156.4L111.8 150.4L117.8 156.4L111.8 162.4Z" fill="#fbf68d"/>
<path d="M269.9 153.6L276.4 147.1L282.9 153.6L276.4 160.1Z" fill="#fbf68d"/>
<path d="M39.1 211.5L46.1 204.5L53.1 211.5L46.1 218.5Z" fill="#fbf68d"/>
<path d="M83.5 240.5L92.5 231.5L101.5 240.5L92.5 249.5Z" fill="#fbf68d"/>
<path d="M131.5 191.9L140.5 182.9L149.5 191.9L140.5 200.9Z" fill="#fbf68d"/>
<path d="M183.9 195.8L192.4 187.3L200.9 195.8L192.4 204.3Z" fill="#fbf68d"/>
<path d="M196.8 236.1L211.8 221.1L226.8 236.1L211.8 251.1Z" fill="#fbf68d"/>
<path d="M247.8 225.5L261.8 211.5L275.8 225.5L261.8 239.5Z" fill="#fbf68d"/>
<path d="M291.9 234.0L298.4 227.5L304.9 234.0L298.4 240.5Z" fill="#fbf68d"/>
<path d="M155.9 277.5L163.4 270.0L170.9 277.5L163.4 285.0Z" fill="#fbf68d"/>
<path d="M212.0 284.6L219.5 277.1L227.0 284.6L219.5 292.1Z" fill="#fbf68d"/>
<path d="M83.7 293.1L89.7 287.1L95.7 293.1L89.7 299.1Z" fill="#fbf68d"/>
<path d="M50.6 302.1L56.6 296.1L62.6 302.1L56.6 308.1Z" fill="#fbf68d"/>
<path d="M133.3 309.4L142.8 299.9L152.3 309.4L142.8 318.9Z" fill="#fbf68d"/>
<path d="M160.8 327.8L167.3 321.3L173.8 327.8L167.3 334.3Z" fill="#fbf68d"/>
<path d="M235.0 303.8L241.0 297.8L247.0 303.8L241.0 309.8Z" fill="#fbf68d"/>
<path d="M296.5 306.1L302.0 300.6L307.5 306.1L302.0 311.6Z" fill="#fbf68d"/>
<path d="M244.4 330.7L250.4 324.7L256.4 330.7L250.4 336.7Z" fill="#fbf68d"/>
<path d="M261.1 361.1L268.6 353.6L276.1 361.1L268.6 368.6Z" fill="#fbf68d"/>
<path d="M106.2 361.8L111.7 356.3L117.2 361.8L111.7 367.3Z" fill="#fbf68d"/>
<path d="M48.3 386.6L54.8 380.1L61.3 386.6L54.8 393.1Z" fill="#fbf68d"/>
<path d="M147.5 378.0L153.5 372.0L159.5 378.0L153.5 384.0Z" fill="#fbf68d"/>
<path d="M210.8 387.2L218.8 379.2L226.8 387.2L218.8 395.2Z" fill="#fbf68d"/>
<path d="M300.2 372.9L307.2 365.9L314.2 372.9L307.2 379.9Z" fill="#fbf68d"/>
<path d="M136.2 408.7L145.2 399.7L154.2 408.7L145.2 417.7Z" fill="#fbf68d"/>
<path d="M177.6 429.7L183.6 423.7L189.6 429.7L183.6 435.7Z" fill="#fbf68d"/>
<path d="M157.3 440.6L163.3 434.6L169.3 440.6L163.3 446.6Z" fill="#fbf68d"/>
<path d="M301.3 429.3L308.8 421.8L316.3 429.3L308.8 436.8Z" fill="#fbf68d"/>
<path d="M81.1 448.0L91.1 438.0L101.1 448.0L91.1 458.0Z" fill="#fbf68d"/>
<path d="M73.1 482.8L85.1 470.8L97.1 482.8L85.1 494.8Z" fill="#fbf68d"/>
<path d="M148.2 495.9L154.7 489.4L161.2 495.9L154.7 502.4Z" fill="#fbf68d"/>
<path d="M195.6 497.7L201.1 492.2L206.6 497.7L201.1 503.2Z" fill="#fbf68d"/>
<path d="M223.5 462.3L228.5 457.3L233.5 462.3L228.5 467.3Z" fill="#fbf68d"/>
<path d="M271.9 458.0L277.9 452.0L283.9 458.0L277.9 464.0Z" fill="#fbf68d"/>
<path d="M282.4 506.0L291.9 496.5L301.4 506.0L291.9 515.5Z" fill="#fbf68d"/>
<text class="n" transform="translate(61.3 20.75) scale(0.935 1)">NANOS1</text>
<text class="n" transform="translate(32.6 32.05) scale(0.935 1)">ACVR2B</text>
<text class="n" transform="translate(19.3 50.05) scale(0.935 1)">NIPBL</text>
<text class="n" transform="translate(103.7 58.45) scale(0.935 1)">FAM46C</text>
<text class="n" transform="translate(92.9 73.15) scale(0.935 1)">DACH1</text>
<text class="n" transform="translate(33.8 77.75) scale(0.935 1)">FOXP1</text>
<text class="n" transform="translate(84.6 88.95) scale(0.935 1)">HGF</text>
<text class="n" transform="translate(52.6 98.35) scale(0.935 1)">TNFSF15</text>
<text class="n" transform="translate(165.2 29.35) scale(0.935 1)">EDRF1</text>
<text class="n" transform="translate(189.7 20.25) scale(0.935 1)">DNAL1</text>
<text class="n" transform="translate(198.5 46.05) scale(0.935 1)">ZBTB38</text>
<text class="n" transform="translate(133.7 66.15) scale(0.935 1)">ATP2C1</text>
<text class="n" transform="translate(157.0 84.55) scale(0.935 1)">PTEN</text>
<text class="n" transform="translate(117.0 86.45) scale(0.935 1)">FRS2</text>
<text class="n" transform="translate(199.3 95.55) scale(0.935 1)">LPPR4</text>
<text class="n" transform="translate(136.3 100.35) scale(0.935 1)">VCAN</text>
<text class="n" transform="translate(168.4 103.55) scale(0.935 1)">UNC80</text>
<text class="n" transform="translate(229.5 96.95) scale(0.935 1)">PARVA</text>
<text class="n" transform="translate(297.4 28.35) scale(0.935 1)">ARFGEF2</text>
<text class="n" transform="translate(317.7 43.55) scale(0.935 1)">CEP97</text>
<text class="n" transform="translate(228.9 51.15) scale(0.935 1)">ZIC5</text>
<text class="n" transform="translate(315.5 70.15) scale(0.935 1)">SLC5A3</text>
<text class="n" transform="translate(249.4 76.75) scale(0.935 1)">SMARCA5</text>
<text class="n" transform="translate(285.1 81.55) scale(0.935 1)">CUL5</text>
<text class="n" transform="translate(287.4 99.65) scale(0.935 1)">ARIH1</text>
<text class="n" transform="translate(316.8 100.25) scale(0.935 1)">NEK7</text>
<text class="n" transform="translate(81.8 126.55) scale(0.935 1)">SOWAHC</text>
<text class="n" transform="translate(18.0 129.05) scale(0.935 1)">IGF1</text>
<text class="n" transform="translate(64.5 137.45) scale(0.935 1)">ITCH</text>
<text class="n" transform="translate(115.0 135.35) scale(0.935 1)">NRP2</text>
<text class="n" transform="translate(28.4 143.55) scale(0.935 1)">DESI2</text>
<text class="n" transform="translate(92.9 146.15) scale(0.935 1)">RASA1</text>
<text class="n" transform="translate(72.7 154.45) scale(0.935 1)">TNKS</text>
<text class="n" transform="translate(59.2 165.85) scale(0.935 1)">SETD5</text>
<text class="n" transform="translate(78.0 175.05) scale(0.935 1)">CCNG2</text>
<text class="n" transform="translate(109.5 173.35) scale(0.935 1)">TNPO1</text>
<text class="n" transform="translate(29.4 184.25) scale(0.935 1)">ATP2A2</text>
<text class="n" transform="translate(101.6 184.25) scale(0.935 1)">FBXO28</text>
<text class="n" transform="translate(66.2 192.05) scale(0.935 1)">MFHAS1</text>
<text class="n" transform="translate(210.7 114.15) scale(0.935 1)">ATXN3</text>
<text class="n" transform="translate(183.6 150.55) scale(0.935 1)">STX7</text>
<text class="n" transform="translate(209.0 159.35) scale(0.935 1)">MTPAP</text>
<text class="n" transform="translate(152.9 162.35) scale(0.935 1)">CPED1</text>
<text class="n" transform="translate(206.9 168.45) scale(0.935 1)">FBXO48</text>
<text class="n" transform="translate(170.4 170.35) scale(0.935 1)">RBAK</text>
<text class="n" transform="translate(140.7 173.35) scale(0.935 1)">BRWD3</text>
<text class="n" transform="translate(196.7 176.85) scale(0.935 1)">ZNF10</text>
<text class="n" transform="translate(183.6 184.75) scale(0.935 1)">HOXA13</text>
<text class="n" transform="translate(235.2 123.45) scale(0.935 1)">MOB1A</text>
<text class="n" transform="translate(269.7 130.75) scale(0.935 1)">LPHN3</text>
<text class="n" transform="translate(323.4 133.15) scale(0.935 1)">TMEM170A</text>
<text class="n" transform="translate(302.6 144.95) scale(0.935 1)">ANLN</text>
<text class="n" transform="translate(321.2 156.85) scale(0.935 1)">TMEM127</text>
<text class="n" transform="translate(244.7 165.85) scale(0.935 1)">RBM27</text>
<text class="n" transform="translate(316.4 168.65) scale(0.935 1)">KIAA1217</text>
<text class="n" transform="translate(261.8 181.05) scale(0.935 1)">RSBN1</text>
<text class="n" transform="translate(287.9 188.15) scale(0.935 1)">IPO5</text>
<text class="n" transform="translate(227.0 186.35) scale(0.935 1)">CAMSAP2</text>
<text class="n" transform="translate(98.5 196.25) scale(0.935 1)">SPOPL</text>
<text class="n" transform="translate(24.9 198.55) scale(0.935 1)">PPP1R16B</text>
<text class="n" transform="translate(99.0 208.65) scale(0.935 1)">PHACTR4</text>
<text class="n" transform="translate(14.0 218.35) scale(0.935 1)">PALLD</text>
<text class="n" transform="translate(77.6 224.75) scale(0.935 1)">CRISPLD2</text>
<text class="n" transform="translate(65.3 265.05) scale(0.935 1)">MEGF9</text>
<text class="n" transform="translate(99.9 269.95) scale(0.935 1)">PHF20L1</text>
<text class="n" transform="translate(27.7 275.05) scale(0.935 1)">ASXL2</text>
<text class="n" transform="translate(78.1 281.35) scale(0.935 1)">ZNF804A</text>
<text class="n" transform="translate(226.5 207.15) scale(0.935 1)">EPHA3</text>
<text class="n" transform="translate(157.7 209.35) scale(0.935 1)">APC</text>
<text class="n" transform="translate(193.7 215.15) scale(0.935 1)">HECW2</text>
<text class="n" transform="translate(124.9 218.35) scale(0.935 1)">RCHY1</text>
<text class="n" transform="translate(157.0 222.55) scale(0.935 1)">PDZD2</text>
<text class="n" transform="translate(175.7 232.15) scale(0.935 1)">SLC35F1</text>
<text class="n" transform="translate(123.7 235.35) scale(0.935 1)">PRPF4B</text>
<text class="n" transform="translate(159.1 244.05) scale(0.935 1)">SLC26A7</text>
<text class="n" transform="translate(127.5 254.25) scale(0.935 1)">PLXNA3</text>
<text class="n" transform="translate(181.5 254.95) scale(0.935 1)">MAP3K1</text>
<text class="n" transform="translate(147.7 264.75) scale(0.935 1)">CCDC71L</text>
<text class="n" transform="translate(195.5 269.95) scale(0.935 1)">DYRK2</text>
<text class="n" transform="translate(125.8 280.35) scale(0.935 1)">SIPA1L3</text>
<text class="n" transform="translate(250.9 201.15) scale(0.935 1)">SUCO</text>
<text class="n" transform="translate(284.9 208.35) scale(0.935 1)">PDCD6IP</text>
<text class="n" transform="translate(320.2 209.75) scale(0.935 1)">MON2</text>
<text class="n" transform="translate(237.7 217.45) scale(0.935 1)">KIT</text>
<text class="n" transform="translate(325.3 220.95) scale(0.935 1)">PELI2</text>
<text class="n" transform="translate(332.9 232.75) scale(0.935 1)">CCNT2</text>
<text class="n" transform="translate(252.8 247.25) scale(0.935 1)">FAM160B1</text>
<text class="n" transform="translate(330.6 246.45) scale(0.935 1)">COL3A1</text>
<text class="n" transform="translate(321.0 256.95) scale(0.935 1)">AHCYL2</text>
<text class="n" transform="translate(231.0 261.15) scale(0.935 1)">UTRN</text>
<text class="n" transform="translate(269.0 261.85) scale(0.935 1)">ZNF592</text>
<text class="n" transform="translate(254.7 275.65) scale(0.935 1)">NDFIP2</text>
<text class="n" transform="translate(293.6 276.05) scale(0.935 1)">CARF</text>
<text class="n" transform="translate(22.8 287.95) scale(0.935 1)">PPP1R9A</text>
<text class="n" transform="translate(11.9 299.95) scale(0.935 1)">CDH1</text>
<text class="n" transform="translate(14.0 311.65) scale(0.935 1)">RIMKLB</text>
<text class="n" transform="translate(96.4 319.55) scale(0.935 1)">SEMA6D</text>
<text class="n" transform="translate(16.6 324.05) scale(0.935 1)">DNAJC6</text>
<text class="n" transform="translate(28.4 336.35) scale(0.935 1)">KDM4C</text>
<text class="n" transform="translate(76.7 337.95) scale(0.935 1)">PCDH7</text>
<text class="n" transform="translate(66.6 355.45) scale(0.935 1)">WDFY1</text>
<text class="n" transform="translate(28.9 367.15) scale(0.935 1)">DGKH</text>
<text class="n" transform="translate(78.5 371.05) scale(0.935 1)">PLCB1</text>
<text class="n" transform="translate(138.0 293.45) scale(0.935 1)">SPAST</text>
<text class="n" transform="translate(168.7 296.75) scale(0.935 1)">ZNF562</text>
<text class="n" transform="translate(192.3 307.75) scale(0.935 1)">ZNF516</text>
<text class="n" transform="translate(201.1 320.05) scale(0.935 1)">IQGAP1</text>
<text class="n" transform="translate(118.8 326.15) scale(0.935 1)">FGD4</text>
<text class="n" transform="translate(138.9 338.95) scale(0.935 1)">KIF11</text>
<text class="n" transform="translate(193.2 342.35) scale(0.935 1)">TSHZ1</text>
<text class="n" transform="translate(224.0 344.25) scale(0.935 1)">HAS3</text>
<text class="n" transform="translate(171.3 348.95) scale(0.935 1)">THBS1</text>
<text class="n" transform="translate(132.8 352.15) scale(0.935 1)">RPS10-NUDT3</text>
<text class="n" transform="translate(194.6 355.95) scale(0.935 1)">RFX3</text>
<text class="n" transform="translate(216.9 359.85) scale(0.935 1)">CRIM1</text>
<text class="n" transform="translate(166.6 365.15) scale(0.935 1)">GRIN3A</text>
<text class="n" transform="translate(273.1 289.85) scale(0.935 1)">CTTNBP2NL</text>
<text class="n" transform="translate(332.0 289.85) scale(0.935 1)">ADAMTS5</text>
<text class="n" transform="translate(339.6 303.15) scale(0.935 1)">ITGB8</text>
<text class="n" transform="translate(335.2 316.75) scale(0.935 1)">RBM20</text>
<text class="n" transform="translate(232.3 319.85) scale(0.935 1)">MAML1</text>
<text class="n" transform="translate(284.5 321.55) scale(0.935 1)">PLEKHH2</text>
<text class="n" transform="translate(327.2 329.65) scale(0.935 1)">SNAPC3</text>
<text class="n" transform="translate(312.0 341.05) scale(0.935 1)">SEPT3</text>
<text class="n" transform="translate(265.2 345.85) scale(0.935 1)">GALNT7</text>
<text class="n" transform="translate(243.2 356.85) scale(0.935 1)">NF1</text>
<text class="n" transform="translate(232.0 372.05) scale(0.935 1)">CDS1</text>
<text class="n" transform="translate(19.6 386.05) scale(0.935 1)">GSK3B</text>
<text class="n" transform="translate(93.7 397.75) scale(0.935 1)">TMEM19</text>
<text class="n" transform="translate(27.7 406.55) scale(0.935 1)">CBLL1</text>
<text class="n" transform="translate(92.9 416.15) scale(0.935 1)">HHIP</text>
<text class="n" transform="translate(49.9 427.25) scale(0.935 1)">FSD1L</text>
<text class="n" transform="translate(77.1 435.15) scale(0.935 1)">DSEL</text>
<text class="n" transform="translate(47.8 453.35) scale(0.935 1)">AGO3</text>
<text class="n" transform="translate(184.5 377.95) scale(0.935 1)">SRGAP1</text>
<text class="n" transform="translate(120.5 386.45) scale(0.935 1)">NUDT3</text>
<text class="n" transform="translate(182.7 390.75) scale(0.935 1)">NUCKS1</text>
<text class="n" transform="translate(118.8 405.35) scale(0.935 1)">FAXC</text>
<text class="n" transform="translate(177.5 404.25) scale(0.935 1)">PDE3A</text>
<text class="n" transform="translate(202.9 410.05) scale(0.935 1)">BBX</text>
<text class="n" transform="translate(206.4 421.05) scale(0.935 1)">SLC12A2</text>
<text class="n" transform="translate(163.4 423.75) scale(0.935 1)">ZFHX3</text>
<text class="n" transform="translate(118.8 427.25) scale(0.935 1)">HIPK1</text>
<text class="n" transform="translate(129.3 436.85) scale(0.935 1)">IMPAD1</text>
<text class="n" transform="translate(126.6 448.55) scale(0.935 1)">PRKCB</text>
<text class="n" transform="translate(207.2 448.05) scale(0.935 1)">PABPC4L</text>
<text class="n" transform="translate(149.4 460.75) scale(0.935 1)">ARID4A</text>
<text class="n" transform="translate(190.6 459.95) scale(0.935 1)">PPTC7</text>
<text class="n" transform="translate(262.1 380.25) scale(0.935 1)">TMTC2</text>
<text class="n" transform="translate(337.7 389.75) scale(0.935 1)">SLC24A1</text>
<text class="n" transform="translate(258.9 391.75) scale(0.935 1)">ZNF470</text>
<text class="n" transform="translate(337.1 400.15) scale(0.935 1)">SIM2</text>
<text class="n" transform="translate(231.4 404.15) scale(0.935 1)">PTGFRN</text>
<text class="n" transform="translate(266.1 402.95) scale(0.935 1)">DNAJC10</text>
<text class="n" transform="translate(300.1 405.85) scale(0.935 1)">USP53</text>
<text class="n" transform="translate(326.7 408.85) scale(0.935 1)">JAK2</text>
<text class="n" transform="translate(247.5 416.85) scale(0.935 1)">IRF4</text>
<text class="n" transform="translate(277.5 420.25) scale(0.935 1)">ADD3</text>
<text class="n" transform="translate(229.5 432.05) scale(0.935 1)">PPP6R3</text>
<text class="n" transform="translate(261.4 434.85) scale(0.935 1)">ARL5B</text>
<text class="n" transform="translate(246.6 449.15) scale(0.935 1)">TM9SF3</text>
<text class="n" transform="translate(296.9 449.15) scale(0.935 1)">CREB5</text>
<text class="n" transform="translate(28.0 476.05) scale(0.935 1)">COL4A5</text>
<text class="n" transform="translate(30.7 489.05) scale(0.935 1)">UBXN7</text>
<text class="n" transform="translate(41.2 503.95) scale(0.935 1)">JARID2</text>
<text class="n" transform="translate(57.5 514.95) scale(0.935 1)">OTUD7B</text>
<text class="n" transform="translate(74.1 526.35) scale(0.935 1)">CGNL1</text>
<text class="n" transform="translate(101.1 532.45) scale(0.935 1)">ARID1B</text>
<text class="n" transform="translate(132.2 470.25) scale(0.935 1)">NEGR1</text>
<text class="n" transform="translate(173.9 469.75) scale(0.935 1)">PLXNC1</text>
<text class="n" transform="translate(139.8 480.75) scale(0.935 1)">PHLPP1</text>
<text class="n" transform="translate(210.7 479.95) scale(0.935 1)">RAPGEF2</text>
<text class="n" transform="translate(178.3 482.85) scale(0.935 1)">ATP11A</text>
<text class="n" transform="translate(124.5 490.45) scale(0.935 1)">EPHA7</text>
<text class="n" transform="translate(192.7 514.45) scale(0.935 1)">CEP41</text>
<text class="n" transform="translate(255.7 475.95) scale(0.935 1)">AMER3</text>
<text class="n" transform="translate(303.5 482.15) scale(0.935 1)">NLGN1</text>
<text class="n" transform="translate(231.0 491.95) scale(0.935 1)">MARCH6</text>
<text class="n" transform="translate(259.9 496.05) scale(0.935 1)">USP37</text>
<text class="n" transform="translate(329.5 495.05) scale(0.935 1)">ITPR1</text>
<text class="n" transform="translate(335.2 505.85) scale(0.935 1)">PDE4D</text>
<text class="n" transform="translate(328.6 516.35) scale(0.935 1)">TCF4</text>
<text class="n" transform="translate(314.3 526.75) scale(0.935 1)">FRMPD4</text>
<text class="n" transform="translate(272.2 528.25) scale(0.935 1)">EIF5</text>
<text class="n" transform="translate(290.2 532.45) scale(0.935 1)">LPP</text>
<text class="n" transform="translate(56.1 58.85) scale(0.935 1)">miR-524-5p</text>
<text class="n" transform="translate(127.8 21.65) scale(0.935 1)">miR-26b-5p</text>
<text class="n" transform="translate(149.4 49.15) scale(0.935 1)">miR-26a-5p</text>
<text class="n" transform="translate(192.5 61.45) scale(0.935 1)">miR-26-5p</text>
<text class="n" transform="translate(238.3 27.45) scale(0.935 1)">miR-1297</text>
<text class="n" transform="translate(287.8 56.25) scale(0.935 1)">miR-498</text>
<text class="n" transform="translate(194.1 79.85) scale(0.935 1)">miR-513a-3p</text>
<text class="n" transform="translate(105.0 104.65) scale(0.935 1)">miR-543</text>
<text class="n" transform="translate(47.7 118.15) scale(0.935 1)">miR-1252-5p</text>
<text class="n" transform="translate(135.9 119.55) scale(0.935 1)">miR-377-3p</text>
<text class="n" transform="translate(185.7 126.55) scale(0.935 1)">miR-513c-3p</text>
<text class="n" transform="translate(255.5 103.25) scale(0.935 1)">miR-4282</text>
<text class="n" transform="translate(297.0 115.95) scale(0.935 1)">miR-590-3p</text>
<text class="n" transform="translate(149.9 146.15) scale(0.935 1)">miR-212-3p</text>
<text class="n" transform="translate(222.0 142.55) scale(0.935 1)">miR-3606-3p</text>
<text class="n" transform="translate(111.8 159.15) scale(0.935 1)">miR-128-3p</text>
<text class="n" transform="translate(276.4 156.35) scale(0.935 1)">miR-4775</text>
<text class="n" transform="translate(46.1 214.25) scale(0.935 1)">miR-137</text>
<text class="n" transform="translate(92.5 243.25) scale(0.935 1)">miR-144-3p</text>
<text class="n" transform="translate(140.5 194.65) scale(0.935 1)">miR-548c-3p</text>
<text class="n" transform="translate(192.4 198.55) scale(0.935 1)">miR-1277-5p</text>
<text class="n" transform="translate(211.8 238.85) scale(0.935 1)">miR-3163</text>
<text class="n" transform="translate(261.8 228.25) scale(0.935 1)">miR-340-5p</text>
<text class="n" transform="translate(298.4 236.75) scale(0.935 1)">miR-627-3p</text>
<text class="n" transform="translate(163.4 280.25) scale(0.935 1)">miR-132-3p</text>
<text class="n" transform="translate(219.5 287.35) scale(0.935 1)">miR-190a-3p</text>
<text class="n" transform="translate(89.7 295.85) scale(0.935 1)">miR-101-3p</text>
<text class="n" transform="translate(56.6 304.85) scale(0.935 1)">miR-1250-3p</text>
<text class="n" transform="translate(142.8 312.15) scale(0.935 1)">miR-362-3p</text>
<text class="n" transform="translate(167.3 330.55) scale(0.935 1)">miR-5011-5p</text>
<text class="n" transform="translate(241.0 306.55) scale(0.935 1)">miR-374a-5p</text>
<text class="n" transform="translate(302.0 308.85) scale(0.935 1)">miR-185-5p</text>
<text class="n" transform="translate(250.4 333.45) scale(0.935 1)">miR-374b-5p</text>
<text class="n" transform="translate(268.6 363.85) scale(0.935 1)">miR-374-5p</text>
<text class="n" transform="translate(111.7 364.55) scale(0.935 1)">miR-8485</text>
<text class="n" transform="translate(54.8 389.35) scale(0.935 1)">miR-3148</text>
<text class="n" transform="translate(153.5 380.75) scale(0.935 1)">miR-3941</text>
<text class="n" transform="translate(218.8 389.95) scale(0.935 1)">miR-410-3p</text>
<text class="n" transform="translate(307.2 375.65) scale(0.935 1)">miR-3613-3p</text>
<text class="n" transform="translate(145.2 411.45) scale(0.935 1)">miR-329-3p</text>
<text class="n" transform="translate(183.6 432.45) scale(0.935 1)">miR-19b-3p</text>
<text class="n" transform="translate(163.3 443.35) scale(0.935 1)">miR-19a-3p</text>
<text class="n" transform="translate(308.8 432.05) scale(0.935 1)">miR-369-3p</text>
<text class="n" transform="translate(91.1 450.75) scale(0.935 1)">miR-495-3p</text>
<text class="n" transform="translate(85.1 485.55) scale(0.935 1)">miR-186-5p</text>
<text class="n" transform="translate(154.7 498.65) scale(0.935 1)">miR-5688</text>
<text class="n" transform="translate(201.1 500.45) scale(0.935 1)">miR-299-3p</text>
<text class="n" transform="translate(228.5 465.05) scale(0.935 1)">miR-147a</text>
<text class="n" transform="translate(277.9 460.75) scale(0.935 1)">miR-5692bc</text>
<text class="n" transform="translate(291.9 508.75) scale(0.935 1)">miR-129-5p</text>
<text x="1.5" y="12" style="font-size:14.5px">a</text>
<text x="363.5" y="12" style="font-size:14.5px">b</text>
<text x="364" y="479" style="font-size:12.5px;font-weight:bold">c</text>
<text class="y" transform="translate(446.8 20.25) scale(0.957 1)">miR−19a−3p</text>
<text class="y" transform="translate(446.8 30.56) scale(0.957 1)">miR−19b−3p</text>
<text class="y" transform="translate(446.8 40.87) scale(0.957 1)">miR−185−5p</text>
<text class="y" transform="translate(446.8 51.18) scale(0.957 1)">miR−128−3p</text>
<text class="y" transform="translate(446.8 61.49) scale(0.957 1)">miR−590−3p</text>
<text class="y" transform="translate(446.8 71.80) scale(0.957 1)">miR−340−5p</text>
<text class="y" transform="translate(446.8 82.11) scale(0.957 1)">miR−362−3p</text>
<text class="y" transform="translate(446.8 92.42) scale(0.957 1)">miR−212−3p</text>
<text class="y" transform="translate(446.8 102.73) scale(0.957 1)">miR−137</text>
<text class="y" transform="translate(446.8 113.04) scale(0.957 1)">miR−3613−3p</text>
<text class="y" transform="translate(446.8 123.35) scale(0.957 1)">miR−299−3p</text>
<text class="y" transform="translate(446.8 133.66) scale(0.957 1)">miR−374b−5p</text>
<text class="y" transform="translate(446.8 143.97) scale(0.957 1)">miR−186−5p</text>
<text class="y" transform="translate(446.8 154.28) scale(0.957 1)">miR−132−3p</text>
<text class="y" transform="translate(446.8 164.59) scale(0.957 1)">miR−513c−3p</text>
<text class="y" transform="translate(446.8 174.90) scale(0.957 1)">miR−513a−3p</text>
<text class="y" transform="translate(446.8 185.21) scale(0.957 1)">miR−3148</text>
<text class="y" transform="translate(446.8 195.52) scale(0.957 1)">miR−3941</text>
<text class="y" transform="translate(446.8 205.83) scale(0.957 1)">miR−4775</text>
<text class="y" transform="translate(446.8 216.14) scale(0.957 1)">miR−374a−5p</text>
<text class="y" transform="translate(446.8 226.45) scale(0.957 1)">miR−1277−5p</text>
<text class="y" transform="translate(446.8 236.76) scale(0.957 1)">miR−627−3p</text>
<text class="y" transform="translate(446.8 247.07) scale(0.957 1)">miR−5011−5p</text>
<text class="y" transform="translate(446.8 257.38) scale(0.957 1)">miR−369−3p</text>
<text class="y" transform="translate(446.8 267.69) scale(0.957 1)">miR−377−3p</text>
<text class="y" transform="translate(446.8 278.00) scale(0.957 1)">miR−190a−3p</text>
<text class="y" transform="translate(446.8 288.31) scale(0.957 1)">miR−3163</text>
<text class="y" transform="translate(446.8 298.62) scale(0.957 1)">miR−498</text>
<text class="y" transform="translate(446.8 308.93) scale(0.957 1)">miR−524−5p</text>
<text class="y" transform="translate(446.8 319.24) scale(0.957 1)">miR−8485</text>
<text class="y" transform="translate(446.8 329.55) scale(0.957 1)">miR−329−3p</text>
<text class="y" transform="translate(446.8 339.86) scale(0.957 1)">miR−543</text>
<text class="y" transform="translate(446.8 350.17) scale(0.957 1)">miR−144−3p</text>
<text class="y" transform="translate(446.8 360.48) scale(0.957 1)">miR−410−3p</text>
<text class="y" transform="translate(446.8 370.79) scale(0.957 1)">miR−26b−5p</text>
<text class="y" transform="translate(446.8 381.10) scale(0.957 1)">miR−495−3p</text>
<text class="y" transform="translate(446.8 391.41) scale(0.957 1)">miR−129−5p</text>
<text class="y" transform="translate(446.8 401.72) scale(0.957 1)">miR−101−3p</text>
<text class="y" transform="translate(446.8 412.03) scale(0.957 1)">miR−26a−5p</text>
<path d="M448.1 16.90H450.5M448.1 27.21H450.5M448.1 37.52H450.5M448.1 47.83H450.5M448.1 58.14H450.5M448.1 68.45H450.5M448.1 78.76H450.5M448.1 89.07H450.5M448.1 99.38H450.5M448.1 109.69H450.5M448.1 120.00H450.5M448.1 130.31H450.5M448.1 140.62H450.5M448.1 150.93H450.5M448.1 161.24H450.5M448.1 171.55H450.5M448.1 181.86H450.5M448.1 192.17H450.5M448.1 202.48H450.5M448.1 212.79H450.5M448.1 223.10H450.5M448.1 233.41H450.5M448.1 243.72H450.5M448.1 254.03H450.5M448.1 264.34H450.5M448.1 274.65H450.5M448.1 284.96H450.5M448.1 295.27H450.5M448.1 305.58H450.5M448.1 315.89H450.5M448.1 326.20H450.5M448.1 336.51H450.5M448.1 346.82H450.5M448.1 357.13H450.5M448.1 367.44H450.5M448.1 377.75H450.5M448.1 388.06H450.5M448.1 398.37H450.5M448.1 408.68H450.5M466.20 414.6V417.0M492.80 414.6V417.0M519.40 414.6V417.0M546.00 414.6V417.0M572.60 414.6V417.0M599.20 414.6V417.0M625.80 414.6V417.0" stroke="#333" stroke-width="0.8" fill="none"/>
<circle cx="466.2" cy="16.9" r="2.2" fill="#ee8e78"/>
<circle cx="492.8" cy="16.9" r="2.3" fill="#ee8e78"/>
<circle cx="519.4" cy="16.9" r="2.0" fill="#f09580"/>
<circle cx="546.0" cy="16.9" r="1.5" fill="#f5b5a5"/>
<circle cx="572.6" cy="16.9" r="2.1" fill="#ee8e78"/>
<circle cx="599.2" cy="16.9" r="3.0" fill="#ee8e78"/>
<circle cx="625.8" cy="16.9" r="0.9" fill="#ececf0"/>
<circle cx="466.2" cy="27.2" r="2.1" fill="#ee8e78"/>
<circle cx="492.8" cy="27.2" r="1.4" fill="#fbe0d5"/>
<circle cx="519.4" cy="27.2" r="1.8" fill="#f2a594"/>
<circle cx="546.0" cy="27.2" r="1.8" fill="#f2a594"/>
<circle cx="572.6" cy="27.2" r="1.8" fill="#f2a594"/>
<circle cx="599.2" cy="27.2" r="2.2" fill="#f09a85"/>
<circle cx="625.8" cy="27.2" r="1.0" fill="#f9cfc0"/>
<circle cx="466.2" cy="37.5" r="2.0" fill="#f5b5a5"/>
<circle cx="492.8" cy="37.5" r="2.0" fill="#f2a090"/>
<circle cx="519.4" cy="37.5" r="3.2" fill="#f2a594"/>
<circle cx="572.6" cy="37.5" r="1.6" fill="#f5b0a0"/>
<circle cx="599.2" cy="37.5" r="1.4" fill="#fad5ca"/>
<circle cx="625.8" cy="37.5" r="1.2" fill="#ee8e78"/>
<circle cx="466.2" cy="47.8" r="2.0" fill="#f2a090"/>
<circle cx="492.8" cy="47.8" r="2.5" fill="#f09580"/>
<circle cx="519.4" cy="47.8" r="2.0" fill="#f5b0a0"/>
<circle cx="546.0" cy="47.8" r="0.7" fill="#f4f0f0"/>
<circle cx="572.6" cy="47.8" r="0.8" fill="#fae4e0"/>
<circle cx="599.2" cy="47.8" r="2.2" fill="#f7bfb0"/>
<circle cx="625.8" cy="47.8" r="1.2" fill="#ee8070"/>
<circle cx="492.8" cy="58.1" r="2.8" fill="#ee8e78"/>
<circle cx="519.4" cy="58.1" r="2.0" fill="#ee8570"/>
<circle cx="572.6" cy="58.1" r="1.3" fill="#fbd8cc"/>
<circle cx="599.2" cy="58.1" r="3.2" fill="#ee8e78"/>
<circle cx="625.8" cy="58.1" r="1.2" fill="#c8c0dc"/>
<circle cx="466.2" cy="68.5" r="1.0" fill="#ece8f2"/>
<circle cx="492.8" cy="68.5" r="1.5" fill="#f5b0a0"/>
<circle cx="519.4" cy="68.5" r="1.6" fill="#fad0c4"/>
<circle cx="572.6" cy="68.5" r="1.3" fill="#d5d0e8"/>
<circle cx="599.2" cy="68.5" r="2.5" fill="#ee8e78"/>
<circle cx="625.8" cy="68.5" r="1.1" fill="#ee8575"/>
<circle cx="466.2" cy="78.8" r="2.0" fill="#ee8e78"/>
<circle cx="492.8" cy="78.8" r="1.7" fill="#b0a0d5"/>
<circle cx="519.4" cy="78.8" r="1.4" fill="#f9cfc4"/>
<circle cx="572.6" cy="78.8" r="1.5" fill="#f09a88"/>
<circle cx="625.8" cy="78.8" r="1.1" fill="#ee8575"/>
<circle cx="466.2" cy="89.1" r="1.8" fill="#f2a594"/>
<circle cx="492.8" cy="89.1" r="1.1" fill="#e0dde8"/>
<circle cx="519.4" cy="89.1" r="2.2" fill="#f7c0b2"/>
<circle cx="546.0" cy="89.1" r="0.8" fill="#eeeeee"/>
<circle cx="572.6" cy="89.1" r="1.3" fill="#fcdcd4"/>
<circle cx="599.2" cy="89.1" r="0.8" fill="#f0f0f0"/>
<circle cx="625.8" cy="89.1" r="1.2" fill="#ee8878"/>
<circle cx="519.4" cy="99.4" r="1.6" fill="#ee8570"/>
<circle cx="625.8" cy="99.4" r="1.3" fill="#f09080"/>
<circle cx="519.4" cy="109.7" r="1.8" fill="#f09080"/>
<circle cx="625.8" cy="109.7" r="1.1" fill="#f09080"/>
<circle cx="519.4" cy="120.0" r="2.0" fill="#f09a88"/>
<circle cx="625.8" cy="120.0" r="1.2" fill="#ee8878"/>
<circle cx="466.2" cy="130.3" r="1.2" fill="#f8e0e0"/>
<circle cx="492.8" cy="130.3" r="1.7" fill="#f7bfb2"/>
<circle cx="519.4" cy="130.3" r="1.3" fill="#fbdcdc"/>
<circle cx="546.0" cy="130.3" r="1.0" fill="#f8e4e4"/>
<circle cx="572.6" cy="130.3" r="1.6" fill="#a8a0d0"/>
<circle cx="599.2" cy="130.3" r="0.8" fill="#f0eef4"/>
<circle cx="625.8" cy="130.3" r="1.3" fill="#ee8878"/>
<circle cx="466.2" cy="140.6" r="1.4" fill="#fad4d0"/>
<circle cx="492.8" cy="140.6" r="2.6" fill="#f5b0a0"/>
<circle cx="519.4" cy="140.6" r="0.7" fill="#f4f0f0"/>
<circle cx="599.2" cy="140.6" r="1.0" fill="#ebe6f0"/>
<circle cx="625.8" cy="140.6" r="1.1" fill="#f8c8bc"/>
<circle cx="466.2" cy="150.9" r="2.3" fill="#ee8e78"/>
<circle cx="492.8" cy="150.9" r="0.9" fill="#e8e8ee"/>
<circle cx="519.4" cy="150.9" r="0.7" fill="#f0f0f0"/>
<circle cx="546.0" cy="150.9" r="0.7" fill="#f4eeee"/>
<circle cx="599.2" cy="150.9" r="1.9" fill="#b8b0dc"/>
<circle cx="625.8" cy="150.9" r="1.2" fill="#ee8878"/>
<circle cx="625.8" cy="161.2" r="1.2" fill="#f09080"/>
<circle cx="625.8" cy="171.6" r="1.2" fill="#f09080"/>
<circle cx="625.8" cy="181.9" r="1.2" fill="#f09080"/>
<circle cx="519.4" cy="192.2" r="1.6" fill="#f09a88"/>
<circle cx="519.4" cy="202.5" r="1.6" fill="#f2a594"/>
<circle cx="466.2" cy="212.8" r="1.7" fill="#f8c8bc"/>
<circle cx="492.8" cy="212.8" r="2.0" fill="#f7c0b2"/>
<circle cx="519.4" cy="212.8" r="2.2" fill="#f09a88"/>
<circle cx="546.0" cy="212.8" r="0.9" fill="#e4e4e8"/>
<circle cx="572.6" cy="212.8" r="1.2" fill="#dcdce4"/>
<circle cx="599.2" cy="212.8" r="1.1" fill="#e2e2e8"/>
<circle cx="625.8" cy="212.8" r="1.1" fill="#b0acd4"/>
<circle cx="519.4" cy="223.1" r="1.6" fill="#f5b0a0"/>
<circle cx="625.8" cy="233.4" r="1.1" fill="#f9d0c4"/>
<circle cx="519.4" cy="243.7" r="1.3" fill="#fad4cc"/>
<circle cx="466.2" cy="254.0" r="2.0" fill="#ee8e78"/>
<circle cx="492.8" cy="254.0" r="1.1" fill="#dcdce4"/>
<circle cx="519.4" cy="254.0" r="2.6" fill="#f09a85"/>
<circle cx="546.0" cy="254.0" r="1.6" fill="#8c88c8"/>
<circle cx="599.2" cy="254.0" r="1.6" fill="#c4c0e0"/>
<circle cx="625.8" cy="254.0" r="0.6" fill="#f4f0f0"/>
<circle cx="466.2" cy="264.3" r="1.4" fill="#f9cfc4"/>
<circle cx="519.4" cy="264.3" r="1.7" fill="#f5b0a0"/>
<circle cx="625.8" cy="264.3" r="1.3" fill="#7a74bc"/>
<circle cx="519.4" cy="274.6" r="0.7" fill="#f4f0f0"/>
<circle cx="519.4" cy="295.3" r="1.8" fill="#f09080"/>
<circle cx="625.8" cy="295.3" r="1.2" fill="#8c88c8"/>
<circle cx="519.4" cy="305.6" r="1.5" fill="#f09080"/>
<circle cx="625.8" cy="305.6" r="1.2" fill="#8c88c8"/>
<circle cx="519.4" cy="326.2" r="0.7" fill="#f4f4f4"/>
<circle cx="625.8" cy="326.2" r="1.0" fill="#ececec"/>
<circle cx="519.4" cy="336.5" r="0.6" fill="#f6f6f6"/>
<circle cx="625.8" cy="336.5" r="1.1" fill="#b8b4dc"/>
<circle cx="466.2" cy="346.8" r="2.1" fill="#8c80c8"/>
<circle cx="492.8" cy="346.8" r="2.4" fill="#f09a85"/>
<circle cx="519.4" cy="346.8" r="1.4" fill="#f7bfb2"/>
<circle cx="546.0" cy="346.8" r="1.5" fill="#8880c8"/>
<circle cx="572.6" cy="346.8" r="2.2" fill="#9890d0"/>
<circle cx="599.2" cy="346.8" r="2.6" fill="#9c94d2"/>
<circle cx="625.8" cy="346.8" r="1.3" fill="#ee8070"/>
<circle cx="466.2" cy="357.1" r="2.1" fill="#f09080"/>
<circle cx="492.8" cy="357.1" r="1.7" fill="#a49cd4"/>
<circle cx="519.4" cy="357.1" r="0.8" fill="#f0f0f0"/>
<circle cx="546.0" cy="357.1" r="1.6" fill="#ccc8e4"/>
<circle cx="572.6" cy="357.1" r="1.5" fill="#b8b0dc"/>
<circle cx="599.2" cy="357.1" r="2.7" fill="#a098d2"/>
<circle cx="625.8" cy="357.1" r="1.2" fill="#c0bce0"/>
<circle cx="466.2" cy="367.4" r="1.6" fill="#ccc8e4"/>
<circle cx="492.8" cy="367.4" r="1.1" fill="#ececf0"/>
<circle cx="519.4" cy="367.4" r="2.5" fill="#c8c0e4"/>
<circle cx="546.0" cy="367.4" r="1.3" fill="#fbdcd4"/>
<circle cx="572.6" cy="367.4" r="2.0" fill="#a098d2"/>
<circle cx="599.2" cy="367.4" r="1.7" fill="#d0c8e8"/>
<circle cx="625.8" cy="367.4" r="0.8" fill="#f0f0f0"/>
<circle cx="466.2" cy="377.8" r="1.6" fill="#f5a898"/>
<circle cx="492.8" cy="377.8" r="1.8" fill="#a8a0d4"/>
<circle cx="572.6" cy="377.8" r="1.8" fill="#b0a8d8"/>
<circle cx="599.2" cy="377.8" r="3.3" fill="#9890d0"/>
<circle cx="625.8" cy="377.8" r="1.2" fill="#8c88c8"/>
<circle cx="492.8" cy="388.1" r="3.3" fill="#a098d4"/>
<circle cx="519.4" cy="388.1" r="1.4" fill="#d0cce8"/>
<circle cx="546.0" cy="388.1" r="1.5" fill="#8c84c8"/>
<circle cx="572.6" cy="388.1" r="2.0" fill="#9c94d0"/>
<circle cx="599.2" cy="388.1" r="0.7" fill="#f0f0f0"/>
<circle cx="625.8" cy="388.1" r="1.2" fill="#f09a88"/>
<circle cx="466.2" cy="398.4" r="2.3" fill="#9890d0"/>
<circle cx="492.8" cy="398.4" r="2.3" fill="#f5a898"/>
<circle cx="519.4" cy="398.4" r="1.0" fill="#e8e8ec"/>
<circle cx="546.0" cy="398.4" r="1.4" fill="#dcdce4"/>
<circle cx="572.6" cy="398.4" r="1.6" fill="#b4acd8"/>
<circle cx="599.2" cy="398.4" r="2.4" fill="#a89cd4"/>
<circle cx="625.8" cy="398.4" r="1.2" fill="#8c88c8"/>
<circle cx="466.2" cy="408.7" r="1.5" fill="#d0cce8"/>
<circle cx="492.8" cy="408.7" r="1.3" fill="#e8e0ec"/>
<circle cx="519.4" cy="408.7" r="3.0" fill="#b8acdc"/>
<circle cx="546.0" cy="408.7" r="0.9" fill="#ececec"/>
<circle cx="572.6" cy="408.7" r="2.1" fill="#a098d2"/>
<circle cx="599.2" cy="408.7" r="2.7" fill="#c0b4e0"/>
<circle cx="625.8" cy="408.7" r="0.9" fill="#ececec"/>
<rect x="450.5" y="10.8" width="191.29999999999995" height="403.8" fill="none" stroke="#333" stroke-width="0.9"/>
<text class="x" transform="translate(473.8 420.8) rotate(-45)">Liver−HCC</text>
<text class="x" transform="translate(500.4 420.8) rotate(-45)">Kidney−RCC</text>
<text class="x" transform="translate(527.0 420.8) rotate(-45)">ESCC</text>
<text class="x" transform="translate(553.6 420.8) rotate(-45)">Prost−AdenoCA</text>
<text class="x" transform="translate(580.2 420.8) rotate(-45)">Stomach−AdenoCA</text>
<text class="x" transform="translate(606.8 420.8) rotate(-45)">Breast−AdenoCa</text>
<text class="x" transform="translate(633.4 420.8) rotate(-45)">Skin−Melanoma</text>
<text class="l" x="648.5" y="139" style="font-size:10px">−log<tspan style="font-size:7px">10</tspan> <tspan style="font-style:italic">P</tspan></text>
<rect x="648" y="142" width="10.6" height="42.4" fill="#f4f4f4"/>
<circle cx="653.3" cy="147.3" r="2.5" fill="#000"/>
<text class="t" x="661.8" y="149.8">10</text>
<circle cx="653.3" cy="157.9" r="2.95" fill="#000"/>
<text class="t" x="661.8" y="160.4">20</text>
<circle cx="653.3" cy="168.5" r="3.4" fill="#000"/>
<text class="t" x="661.8" y="171.0">30</text>
<circle cx="653.3" cy="179.1" r="3.9" fill="#000"/>
<text class="t" x="661.8" y="181.6">40</text>
<text class="l" x="648.5" y="202.2" style="font-size:10px">log2FC</text>
<defs><linearGradient id="cg" x1="0" y1="0" x2="0" y2="1"><stop offset="0" stop-color="#e8412c"/><stop offset="0.25" stop-color="#f29a85"/><stop offset="0.5" stop-color="#faf6f6"/><stop offset="0.75" stop-color="#9a96cc"/><stop offset="1" stop-color="#3b4ba2"/></linearGradient></defs>
<rect x="647.8" y="208.5" width="11" height="54" fill="url(#cg)"/>
<text class="t" x="661.8" y="213.5">2</text>
<text class="t" x="661.8" y="226.1">1</text>
<text class="t" x="661.8" y="238.6">0</text>
<text class="t" x="661.8" y="251.2">−1</text>
<text class="t" x="661.8" y="263.7">−2</text>
<circle cx="445.2" cy="527.4" r="51" fill="#de3b49"/>
<path d="M445.2 527.4L445.20 476.40A51 51 0 0 0 437.86 476.93Z" fill="#f6b926"/>
<path d="M445.2 527.4L437.86 476.93A51 51 0 0 0 429.14 479.00Z" fill="#1d3557"/>
<path d="M445.2 527.4L429.14 479.00A51 51 0 0 0 415.74 485.77Z" fill="#a8dadc"/>
<text transform="translate(451.8 473.8) scale(0.94 1)" style="font-size:10.4px;text-anchor:middle">2.3%</text>
<text transform="translate(425.2 473.8) scale(0.94 1)" style="font-size:10.4px;text-anchor:middle">2.8%</text>
<text transform="translate(407.5 483.8) scale(0.94 1)" style="font-size:10.4px;text-anchor:middle">4.7%</text>
<text transform="translate(452 551.4) scale(0.94 1)" style="font-size:10.4px;text-anchor:middle">90.2%</text>
<text transform="translate(518.8 507.0) scale(0.94 1)" style="font-size:10.4px;text-anchor:start">Class</text>
<rect x="519" y="511.2" width="9.8" height="8.8" fill="#f6b926"/>
<text transform="translate(532.7 518.7) scale(0.94 1)" style="font-size:10.4px;text-anchor:start">APA</text>
<rect x="519" y="521.8" width="9.8" height="8.8" fill="#1d3557"/>
<text transform="translate(532.7 529.3) scale(0.94 1)" style="font-size:10.4px;text-anchor:start">m6A</text>
<rect x="519" y="532.4" width="9.8" height="8.8" fill="#a8dadc"/>
<text transform="translate(532.7 539.9) scale(0.94 1)" style="font-size:10.4px;text-anchor:start">miRNA</text>
<rect x="519" y="543.0" width="9.8" height="8.8" fill="#de3b49"/>
<text transform="translate(532.7 550.5) scale(0.94 1)" style="font-size:10.4px;text-anchor:start">Unique 3&#x27;UTR piSNV</text>
</svg></body></html>
